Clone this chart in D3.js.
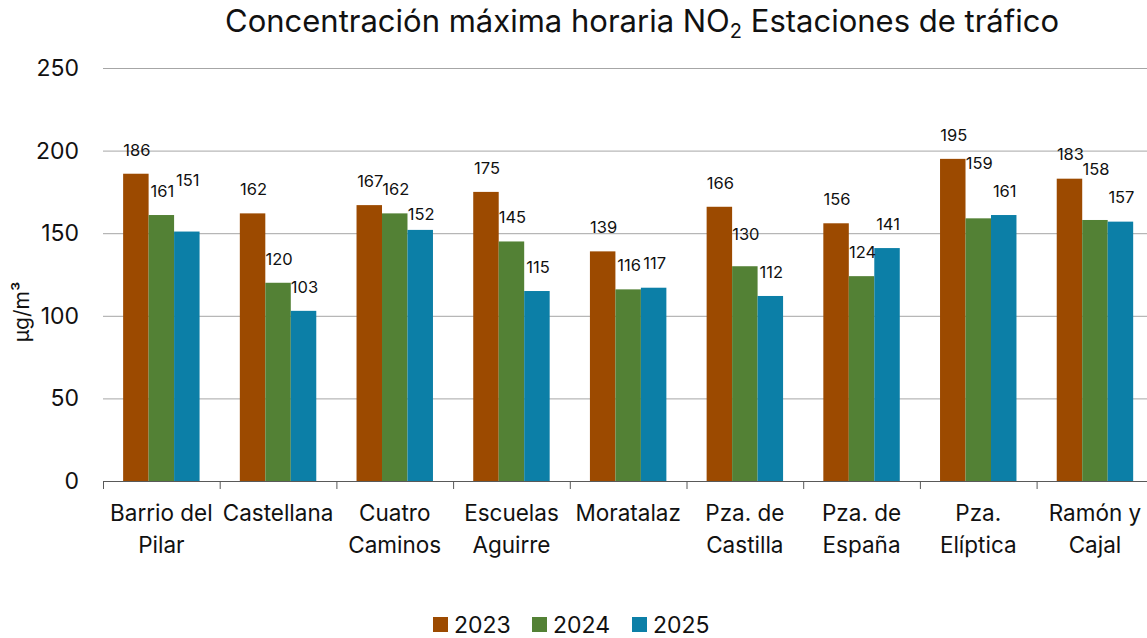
<!DOCTYPE html>
<html>
<head>
<meta charset="utf-8">
<script src="https://cdn.jsdelivr.net/npm/d3@7"></script>
<style>
  body { margin: 0; background: #fff; }
  text { font-family: Inter, "Noto Sans", sans-serif; fill: #111; }
</style>
</head>
<body>
<div id="chart"></div>
<script>
// Datos: concentración máxima horaria NO2, estaciones de tráfico
var estaciones = ["Barrio del|Pilar", "Castellana", "Cuatro|Caminos", "Escuelas|Aguirre", "Moratalaz",
                  "Pza. de|Castilla", "Pza. de|España", "Pza.|Elíptica", "Ramón y|Cajal"];
var anios = ["2023", "2024", "2025"];
var v2023 = [186, 162, 167, 175, 139, 166, 156, 195, 183];
var v2024 = [161, 120, 162, 145, 116, 130, 124, 159, 158];
var v2025 = [151, 103, 152, 115, 117, 112, 141, 161, 157];
var yTicks = [0, 50, 100, 150, 200, 250];

// etiquetas que Excel movió para no solaparse (px extra hacia arriba)
var empujeEtiqueta = {"0-2": 27, "5-1": 8, "7-1": 31, "8-1": 27, "2-2": -8};

var colores = d3.scaleOrdinal().domain(anios).range(["#9c4a00", "#538135", "#0c7fa7"]);

var width = 1147, height = 638;
var margin = {top: 68, left: 103, bottom: 157};

var svg = d3.select("#chart").append("svg")
    .attr("width", width)
    .attr("height", height);

var x0 = d3.scaleBand()
    .domain(estaciones)
    .range([margin.left, margin.left + 9 * 116.7])
    .padding(0);

var x1 = d3.scaleBand()
    .domain(anios)
    .range([0, x0.bandwidth()])
    .paddingInner(0)
    .paddingOuter(0.79);

var y = d3.scaleLinear()
    .domain([0, 250])
    .range([height - margin.bottom, margin.top]);

// rejilla
svg.append("g").selectAll("line")
    .data(yTicks.filter(function(d) { return d > 0; }))
  .enter().append("line")
    .attr("x1", margin.left).attr("x2", width)
    .attr("y1", function(d) { return y(d) + 0.5; })
    .attr("y2", function(d) { return y(d) + 0.5; })
    .style("stroke", "#a6a6a6").style("stroke-width", 1);

// etiquetas eje y
svg.append("g").selectAll("text")
    .data(yTicks)
  .enter().append("text")
    .attr("x", 79)
    .attr("y", function(d) { return y(d); })
    .attr("dy", "0.35em")
    .attr("text-anchor", "end")
    .style("font-size", "23px")
    .text(function(d) { return d; });

svg.append("text")
    .attr("transform", "translate(29," + 312 + ") rotate(-90)")
    .attr("text-anchor", "middle")
    .style("font-size", "21px")
    .text("µg/m³");

// barras
var series = [v2023, v2024, v2025];
var filas = [];
estaciones.forEach(function(e, i) {
  anios.forEach(function(a, j) {
    filas.push({est: e, anio: a, valor: series[j][i], key: i + "-" + j});
  });
});

var grupos = svg.append("g");
grupos.selectAll("rect")
    .data(filas)
  .enter().append("rect")
    .attr("x", function(d) { return x0(d.est) + x1(d.anio); })
    .attr("y", function(d) { return y(d.valor); })
    .attr("width", x1.bandwidth())
    .attr("height", function(d) { return y(0) - y(d.valor); })
    .style("fill", function(d) { return colores(d.anio); });

// etiquetas de datos
grupos.selectAll("text")
    .data(filas)
  .enter().append("text")
    .attr("x", function(d) { return x0(d.est) + x1(d.anio) + x1.bandwidth() / 2 + 1; })
    .attr("y", function(d) { return y(d.valor) - 24 - (empujeEtiqueta[d.key] || 0); })
    .attr("dy", "0.35em")
    .attr("text-anchor", "middle")
    .style("font-size", "16.5px")
    .text(function(d) { return d.valor; });

// eje x
var ejeX = svg.append("g");
ejeX.append("line")
    .attr("x1", margin.left).attr("x2", width)
    .attr("y1", y(0) + 0.5).attr("y2", y(0) + 0.5)
    .style("stroke", "#595959");
ejeX.selectAll("line.tick")
    .data(estaciones)
  .enter().append("line")
    .attr("class", "tick")
    .attr("x1", function(d) { return x0(d) + 0.5; })
    .attr("x2", function(d) { return x0(d) + 0.5; })
    .attr("y1", y(0)).attr("y2", y(0) + 8)
    .style("stroke", "#595959");

ejeX.selectAll("text")
    .data(estaciones)
  .enter().append("text")
    .attr("x", function(d) { return x0(d) + x0.bandwidth() / 2; })
    .attr("y", 513)
    .attr("text-anchor", "middle")
    .style("font-size", "22.5px")
    .each(function(d) {
      var partes = d.split("|");
      var t = d3.select(this);
      partes.forEach(function(p, k) {
        t.append("tspan")
          .attr("x", t.attr("x"))
          .attr("dy", k === 0 ? "0.35em" : "32px")
          .text(p);
      });
    });

// título
var titulo = svg.append("text")
    .attr("x", 642)
    .attr("y", 32)
    .attr("text-anchor", "middle")
    .style("font-size", "31px");
titulo.append("tspan").text("Concentración máxima horaria NO");
titulo.append("tspan").attr("dy", "6").style("font-size", "20px").text("2");
titulo.append("tspan").attr("dy", "-6").text(" Estaciones de tráfico");

// leyenda
var leyX = [433, 532, 632];
var ley = svg.append("g").selectAll("g")
    .data(anios)
  .enter().append("g")
    .attr("transform", function(d, i) { return "translate(" + leyX[i] + ",617)"; });
ley.append("rect")
    .attr("width", 15).attr("height", 15)
    .style("fill", function(d) { return colores(d); });
ley.append("text")
    .attr("x", 21).attr("y", 8)
    .attr("dy", "0.35em")
    .style("font-size", "23px")
    .text(function(d) { return d; });
</script>
</body>
</html>
